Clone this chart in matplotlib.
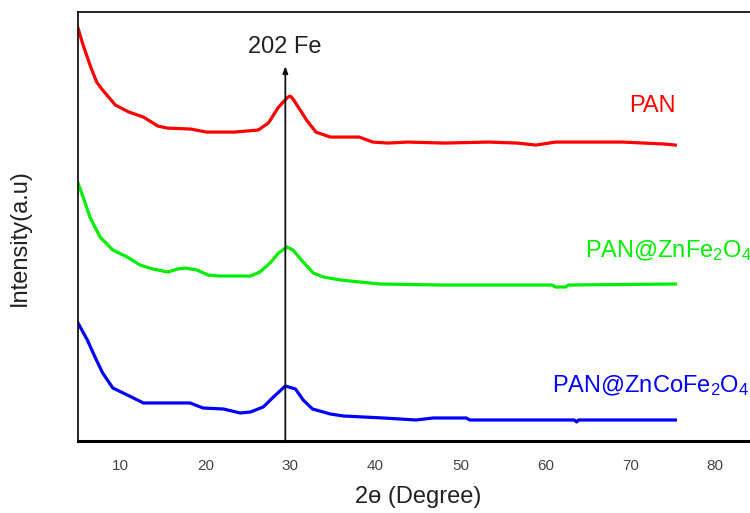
import matplotlib.pyplot as plt

plt.rcParams["font.family"] = ["Liberation Sans", "DejaVu Sans"]
plt.rcParams["mathtext.default"] = "regular"

# 2-theta (degree) and intensity (a.u., stacked)
pan_x = [5.0, 5.6, 6.5, 7.2, 7.9, 9.4, 11.0, 12.7, 14.4, 15.5, 18.3, 20.1, 23.4,
         26.2, 27.4, 28.6, 29.7, 30.0, 30.4, 31.9, 33.0, 34.7, 38.1, 39.7, 41.5,
         43.8, 48.2, 53.3, 56.7, 58.9, 61.2, 65.7, 69.1, 74.1, 75.3]
pan_y = [413, 396, 374, 359, 351, 336, 329, 324, 315, 313, 312, 309, 309,
         311, 318, 334, 344, 345, 341, 321, 309, 304, 304, 299, 298,
         299, 298, 299, 298, 296, 299, 299, 299, 297, 296]

znfe_x = [5.0, 5.6, 6.4, 7.6, 9.1, 10.8, 12.3, 13.8, 15.6, 16.7, 17.6, 19.0,
          20.3, 21.7, 25.3, 26.4, 27.6, 28.6, 29.6, 30.3, 31.5, 32.7, 33.9,
          35.9, 38.2, 40.6, 47.6, 59.4, 60.8, 61.2, 62.4, 62.7, 75.3]
znfe_y = [258, 244, 224, 204, 191, 184, 176, 172, 169, 172, 173, 171,
          166, 165, 165, 169, 178, 188, 194, 191, 179, 168, 164,
          161, 159, 157, 156, 156, 156, 154, 154, 156, 157]

zncofe_x = [5.0, 6.1, 7.0, 7.9, 9.1, 10.8, 12.7, 18.2, 19.7, 22.1, 24.1, 25.3,
            26.8, 28.0, 29.4, 30.6, 31.5, 32.6, 34.7, 36.2, 40.9, 44.8, 46.8,
            50.7, 51.1, 63.4, 63.7, 63.9, 75.3]
zncofe_y = [118, 101, 84, 68, 53, 46, 38, 38, 33, 32, 28, 29,
            34, 44, 55, 52, 41, 32, 27, 25, 23, 21, 23,
            23, 21, 21, 19, 21, 21]

xticks = [10, 20, 30, 40, 50, 60, 70, 80]
peak_pos = 29.4

fig = plt.figure(figsize=(7.5, 5.13), dpi=100)
ax = fig.add_axes([0.104, 0.1404, 0.963, 0.836])

lw = 2.3
ax.plot(pan_x, pan_y, color="#ff0000", lw=lw)
ax.plot(znfe_x, znfe_y, color="#00ee00", lw=lw)
ax.plot(zncofe_x, zncofe_y, color="#0000ff", lw=lw)

ax.annotate("", xy=(peak_pos, 375), xytext=(peak_pos, 0),
            arrowprops=dict(arrowstyle="-|>,head_length=0.4,head_width=0.15",
                            color="#111111", lw=1.3, shrinkA=0, shrinkB=0))
ax.text(peak_pos - 0.1, 388, "202 Fe", ha="center", va="baseline", fontsize=17,
        color="#222222")

ax.text(72.6, 329, "PAN", ha="center", va="baseline", fontsize=17,
        color="#ff0000")
ax.text(64.7, 184, "PAN@ZnFe$_2$O$_4$", ha="left", va="baseline", fontsize=17,
        color="#00ee00")
ax.text(60.8, 49, "PAN@ZnCoFe$_2$O$_4$", ha="left", va="baseline", fontsize=17,
        color="#0000ff")

ax.set_xlim(5, 90)
ax.set_ylim(0, 429)
ax.set_xticks(xticks)
ax.set_yticks([])
ax.tick_params(axis="x", length=0, pad=13, labelsize=11, labelcolor="#444444")
for name in ("left", "top"):
    ax.spines[name].set_linewidth(1.2)
ax.spines["bottom"].set_linewidth(2.2)
ax.spines["right"].set_visible(False)

fig.text(0.557, 0.031, "2ɵ (Degree)", ha="center", va="center", fontsize=17,
         color="#222222")
fig.text(0.027, 0.536, "Intensity(a.u)", ha="center", va="center", fontsize=17,
         rotation=90, color="#222222")

fig.savefig("out.png", dpi=100)
